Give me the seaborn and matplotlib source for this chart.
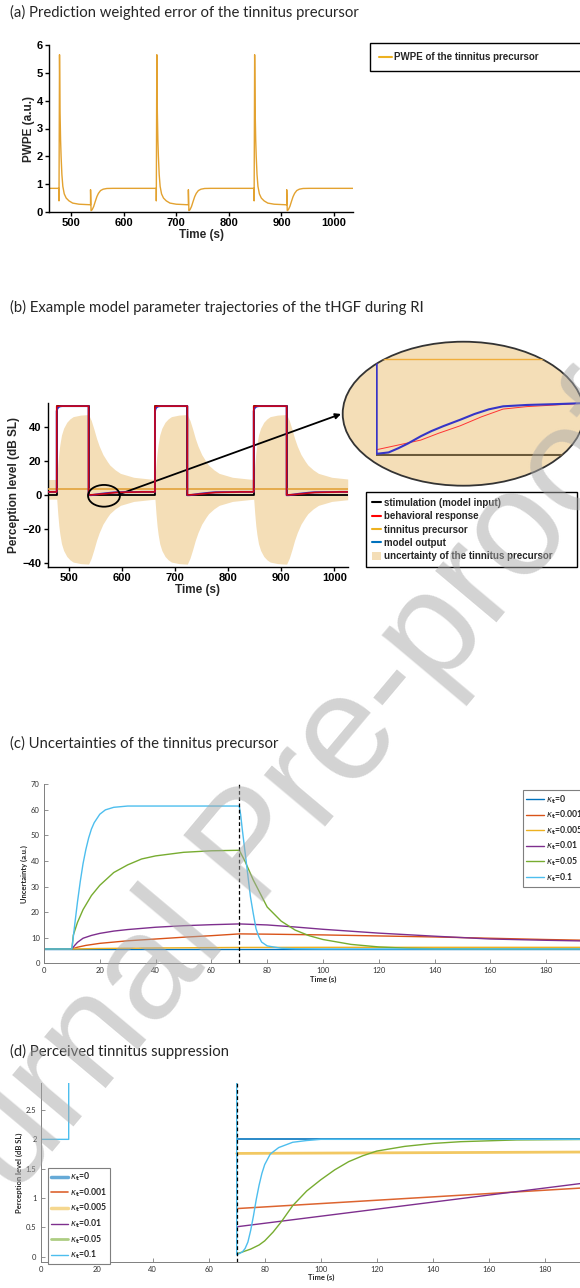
import matplotlib
matplotlib.use("Agg")
import matplotlib.pyplot as plt
import seaborn as sns
import numpy as np
import pandas as pd
from matplotlib.patches import Ellipse, Patch
from matplotlib.lines import Line2D

# ------------------------------------------------------------------ data
# stimulation events (s) for panels (a) and (b)
stim_on = [477, 662, 848]
stim_off = [537, 723, 910]
stim_level = 52.5

# (a) PWPE: shape after onset and after offset (relative s, value)
pwpe_base = 0.85
pwpe_on_t = [0, 0, 1, 2, 3, 4, 5.5, 7.3, 10, 13.7, 19, 26, 38, 60]
pwpe_on_v = [0.85, 0.40, 5.65, 3.6, 2.6, 2.0, 1.35, 0.92, 0.65, 0.50, 0.40, 0.32, 0.28, 0.26]
pwpe_off_t = [0, 0, 1, 3, 6, 9, 12, 15, 19, 24, 31, 43]
pwpe_off_v = [0.26, 0.80, 0.05, 0.08, 0.20, 0.38, 0.55, 0.67, 0.77, 0.82, 0.845, 0.85]

# (b) behavioural response (red) and model output (blue)
resp_base = 2.0
resp_on_t = [0, 0]
resp_on_v = [2.0, 52.5]
resp_off_t = [0, 0, 8, 18.5, 26, 35, 44, 53, 63, 75, 88, 100]
resp_off_v = [52.5, 0.2, 0.35, 0.55, 0.8, 1.07, 1.4, 1.68, 1.77, 1.83, 1.9, 2.0]
model_on_t = [0, 0, 1, 3, 6, 10]
model_on_v = [2.0, 49.5, 50.8, 51.8, 52.3, 52.5]
model_off_t = [0, 0, 5, 9, 13, 18.5, 23, 28, 35, 41, 47, 53, 63, 75, 88, 100]
model_off_v = [52.5, 0.05, 0.1, 0.25, 0.42, 0.69, 0.88, 1.06, 1.29, 1.5, 1.67, 1.78, 1.83, 1.86, 1.9, 2.0]
precursor_level = 3.5
# uncertainty half width around the precursor
unc_base = 5.8
unc_on_t = [0, 2, 4, 6, 9, 13, 19, 25, 31, 45, 60]
unc_on_v = [5.8, 14.5, 21.5, 26.5, 32, 36, 39.5, 41.5, 42.8, 43.7, 44]
unc_off_t = [0, 5, 10, 15, 20, 27, 35, 40, 50, 60, 85, 115]
unc_off_v = [44, 40.5, 35.5, 30, 25.5, 20.5, 16.5, 14.3, 11.5, 9.4, 7.1, 6.1]

# (c) uncertainties of the tinnitus precursor
kappa_labels = ['0', '0.001', '0.005', '0.01', '0.05', '0.1']
kappa_colors = ['#0072BD', '#D95319', '#EDB120', '#7E2F8E', '#77AC30', '#4DBEEE']
unc_time_0 = [0, 200]
unc_val_0 = [5.6, 5.6]
unc_time_001 = [0, 10, 12, 15, 20, 30, 40, 50, 60, 70, 80, 100, 120, 140, 160, 180, 200]
unc_val_001 = [5.6, 5.6, 6.3, 7.0, 7.8, 8.8, 9.5, 10.2, 10.8, 11.5, 11.4, 11.1, 10.7, 10.3, 9.8, 9.3, 8.9]
unc_time_005 = [0, 10, 20, 40, 70, 100, 200]
unc_val_005 = [5.6, 5.6, 5.8, 6.0, 6.2, 6.25, 6.25]
unc_time_01 = [0, 10, 11, 12, 14, 17, 20, 25, 30, 40, 50, 60, 70, 80, 90, 100, 120, 140, 160, 180, 200]
unc_val_01 = [5.6, 5.6, 7.0, 8.2, 9.8, 10.9, 11.7, 12.6, 13.2, 14.1, 14.7, 15.1, 15.4, 15.0, 14.2, 13.3, 11.8, 10.6, 9.5, 9.0, 8.6]
unc_time_05 = [0, 10, 10.5, 12, 14, 17, 20, 25, 30, 35, 40, 50, 60, 70, 72, 75, 80, 85, 90, 95, 100, 110, 120, 130, 140, 160, 200]
unc_val_05 = [5.6, 5.6, 11, 16, 21, 26.5, 30.5, 35.5, 38.5, 40.8, 42.0, 43.4, 44.0, 44.2, 40, 32.6, 22, 16.5, 13, 10.8, 9.3, 7.4, 6.4, 5.9, 5.7, 5.6, 5.6]
unc_time_1 = [0, 10, 11, 12, 13, 14, 15, 16, 17, 18, 20, 22, 25, 30, 70, 70.5, 71, 72, 73, 74, 75, 76, 77, 78, 80, 85, 90, 100, 200]
unc_val_1 = [5.6, 5.6, 15, 24, 32, 39, 44.5, 49, 52.5, 55, 58.3, 60, 61.0, 61.5, 61.5, 58, 53, 44, 35, 26, 19.5, 13.5, 10.4, 8.3, 6.8, 5.9, 5.7, 5.6, 5.6]

# (d) perceived tinnitus suppression (3.4 = above the shown range)
perc_time_0 = [70, 200]
perc_val_0 = [2.0, 2.0]
perc_time_001 = [70, 200]
perc_val_001 = [0.82, 1.19]
perc_time_005 = [70, 200]
perc_val_005 = [1.76, 1.785]
perc_time_01 = [70, 200]
perc_val_01 = [0.51, 1.29]
perc_time_05 = [70, 72, 75, 78, 80, 83, 86, 90, 95, 100, 105, 110, 115, 120, 130, 140, 150, 170, 200]
perc_val_05 = [0.05, 0.08, 0.13, 0.2, 0.27, 0.42, 0.6, 0.87, 1.12, 1.31, 1.48, 1.62, 1.72, 1.8, 1.88, 1.93, 1.96, 1.99, 2.0]
perc_time_1 = [0, 10, 10, 70, 70, 72, 73, 74, 75, 76, 77, 78, 79, 80, 82, 85, 90, 95, 100, 200]
perc_val_1 = [2.0, 2.0, 3.4, 3.4, 0.03, 0.08, 0.14, 0.25, 0.45, 0.7, 0.98, 1.22, 1.42, 1.57, 1.75, 1.86, 1.95, 1.98, 2.0, 2.0]

# ------------------------------------------------------------------ helpers
def build(on_t, on_v, off_t, off_v, t0, t1, base):
    t, v = [t0], [base]
    for on, off in zip(stim_on, stim_off):
        t += [on + x for x in on_t]
        v += list(on_v)
        t += [off + x for x in off_t]
        v += list(off_v)
    t.append(t1)
    v.append(base)
    return np.array(t, float), np.array(v, float)

sns.set_theme(style="ticks")
plt.rcParams['font.family'] = ['Liberation Sans', 'DejaVu Sans']
plt.rcParams['mathtext.fontset'] = 'dejavusans'
plt.rcParams['axes.facecolor'] = 'white'

W, H = 580, 1288
fig = plt.figure(figsize=(W / 100, H / 100), dpi=100)
fig.patch.set_facecolor('white')

def fb(l, t, r, b):
    return [l / W, 1 - b / H, (r - l) / W, (b - t) / H]

def line(ax, x, y, **kw):
    sns.lineplot(x=list(x), y=list(y), ax=ax, estimator=None, sort=False, **kw)

TITLE = dict(family=['Lato', 'DejaVu Sans'], fontsize=10.7, va='center', ha='left')
fig.text(10 / W, 1 - 12 / H, '(a) Prediction weighted error of the tinnitus precursor', **TITLE)
fig.text(10 / W, 1 - 307 / H, '(b) Example model parameter trajectories of the tHGF during RI', **TITLE)
fig.text(10 / W, 1 - 743 / H, '(c) Uncertainties of the tinnitus precursor', **TITLE)
fig.text(10 / W, 1 - 1051 / H, '(d) Perceived tinnitus suppression', **TITLE)

def style_ab(ax):
    sns.despine(ax=ax)
    for s in ['left', 'bottom']:
        ax.spines[s].set_linewidth(1.0)
        ax.spines[s].set_color('black')
    ax.tick_params(direction='out', length=3, width=1, labelsize=8, pad=1.5, colors='black')
    for lab in ax.get_xticklabels() + ax.get_yticklabels():
        lab.set_fontweight('bold')
    ax.set_xlabel('Time (s)', fontsize=8.5, fontweight='bold', labelpad=0.5)

LEG_AB = dict(loc='upper left', bbox_transform=fig.transFigure, mode='expand', borderaxespad=0,
              fancybox=False, edgecolor='black', framealpha=1,
              prop={'family': 'Liberation Sans', 'weight': 'bold', 'size': 7})

# ------------------------------------------------------------------ (a)
ax_a = fig.add_axes(fb(49, 45, 353, 212))
ta, va = build(pwpe_on_t, pwpe_on_v, pwpe_off_t, pwpe_off_v, 458, 1036, pwpe_base)
line(ax_a, ta, va, color='#E3A230', lw=1.0)
ax_a.set_xlim(458, 1036)
ax_a.set_ylim(0, 6)
ax_a.set_xticks([500, 600, 700, 800, 900, 1000])
ax_a.set_yticks(range(0, 7))
ax_a.set_ylabel('PWPE (a.u.)', fontsize=8.5, fontweight='bold', labelpad=1)
style_ab(ax_a)
leg_a = ax_a.legend([Line2D([], [], color='#EDB120', lw=1.5)], ['PWPE of the tinnitus precursor'],
                    bbox_to_anchor=fb(370, 43.3, 610, 71.7), handlelength=1.3,
                    handletextpad=0.2, borderpad=0.92, **LEG_AB)
leg_a.get_frame().set_linewidth(1.0)

# ------------------------------------------------------------------ (b)
ax_b = fig.add_axes(fb(47.7, 402.7, 347.7, 567))
tb_u, hw = build(unc_on_t, unc_on_v, unc_off_t, unc_off_v, 460, 1025, unc_base)
ax_b.fill_between(tb_u, precursor_level - hw, precursor_level + hw, color='#F4DEB7', lw=0, zorder=1)
ts, vs = build([0, 0], [0, stim_level], [0, 0], [stim_level, 0], 460, 1025, 0.0)
line(ax_b, ts, vs, color='black', lw=1.3, zorder=2)
line(ax_b, [460, 1025], [precursor_level, precursor_level], color='#E3A23B', lw=1.2, zorder=3)
tm, vm = build(model_on_t, model_on_v, model_off_t, model_off_v, 460, 1025, resp_base)
line(ax_b, tm, vm, color='#2F2FD0', lw=1.4, zorder=4)
tr, vr = build(resp_on_t, resp_on_v, resp_off_t, resp_off_v, 460, 1025, resp_base)
line(ax_b, tr, vr, color='#E00000', lw=1.2, zorder=5, alpha=0.9)
ax_b.set_xlim(460, 1025)
ax_b.set_ylim(-42.2, 54.5)
ax_b.set_xticks([500, 600, 700, 800, 900, 1000])
ax_b.set_yticks([-40, -20, 0, 20, 40])
ax_b.set_ylabel('Perception level (dB SL)', fontsize=8.5, fontweight='bold', labelpad=2)
style_ab(ax_b)
ax_b.add_patch(Ellipse((566, -0.3), 60, 12.8, fill=False, ec='black', lw=1.3, zorder=6))
ax_b.annotate('', xy=(341 / W, 1 - 414 / H), xycoords='figure fraction',
              xytext=(118.5 / W, 1 - 494.5 / H), textcoords='figure fraction',
              arrowprops=dict(arrowstyle='-|>', color='black', lw=1.3,
                              mutation_scale=8, shrinkA=0, shrinkB=0),
              annotation_clip=False)
hb = [Line2D([], [], color='black', lw=1.5), Line2D([], [], color='#FF0000', lw=1.5),
      Line2D([], [], color='#EDB120', lw=1.5), Line2D([], [], color='#0072BD', lw=1.5),
      Patch(facecolor='#F4DEB7', edgecolor='none')]
lb = ['stimulation (model input)', 'behavioral response', 'tinnitus precursor',
      'model output', 'uncertainty of the tinnitus precursor']
leg_b = ax_b.legend(hb, lb, bbox_to_anchor=fb(365.7, 492.3, 577.3, 569),
                    handlelength=0.95, handleheight=0.9, handletextpad=0.3, borderpad=0.6,
                    labelspacing=0.34, **LEG_AB)
leg_b.get_frame().set_linewidth(1.0)

# zoom ellipse
ax_el = fig.add_axes(fb(342.7, 341.7, 584, 485.7))
ax_el.set_axis_off()
ell = Ellipse((0.5, 0.5), 1, 1, transform=ax_el.transAxes, fc='#F4DEB7', ec='#333333',
              lw=1.3, clip_on=False)
ax_el.add_patch(ell)
ax_in = fig.add_axes(fb(375.7, 358.3, 620, 456))
ax_in.set_axis_off()
ax_in.patch.set_alpha(0)
line(ax_in, [536.6, 700], [precursor_level, precursor_level], color='#F0AE3C', lw=1.0)
line(ax_in, [536.6, 700], [0, 0], color='#6B5A3A', lw=1.5)
line(ax_in, tr, vr, color='#FF3333', lw=0.7)
line(ax_in, tm, vm, color='#3535C8', lw=1.5)
ax_in.set_xlim(536.6, 639)
ax_in.set_ylim(-0.03, 3.53)
for ln in ax_in.lines:
    ln.set_clip_path(ell)

# ------------------------------------------------------------------ (c), (d) style
CD_FONT = ['Lato', 'DejaVu Sans']

def style_cd(ax):
    sns.despine(ax=ax)
    for s in ['left', 'bottom']:
        ax.spines[s].set_linewidth(0.7)
        ax.spines[s].set_color('#7F7F7F')
    ax.tick_params(direction='in', length=3, width=0.6, colors='#7F7F7F',
                   labelcolor='#333333', labelsize=5.5, pad=3)
    for lab in ax.get_xticklabels() + ax.get_yticklabels():
        lab.set_family(CD_FONT)
    ax.set_xlabel('Time (s)', fontsize=5.5, fontweight='bold', family=CD_FONT, labelpad=1)

kap_lab = [r'$\kappa_{\mathbf{t}}$=' + k for k in kappa_labels]
LEG_CD = dict(loc='upper left', bbox_transform=fig.transFigure, borderaxespad=0,
              handlelength=2.0, handletextpad=0.25, borderpad=0.35, labelspacing=0.36,
              fancybox=False, edgecolor='#7F7F7F', framealpha=1,
              prop={'family': CD_FONT, 'weight': 'bold', 'size': 6.2})

# ------------------------------------------------------------------ (c)
ax_c = fig.add_axes(fb(44, 784.3, 44 + 2.79 * 200, 963.3))
c_series = [(unc_time_0, unc_val_0), (unc_time_001, unc_val_001), (unc_time_005, unc_val_005),
            (unc_time_01, unc_val_01), (unc_time_05, unc_val_05), (unc_time_1, unc_val_1)]
for (x, y), col in zip(c_series, kappa_colors):
    line(ax_c, x, y, color=col, lw=1.0)
ax_c.axvline(70, color='black', ls='--', lw=0.9, dashes=(3, 2))
ax_c.set_xlim(0, 200)
ax_c.set_ylim(0, 70)
ax_c.set_xticks(range(0, 201, 20))
ax_c.set_yticks(range(0, 71, 10))
ax_c.set_ylabel('Uncertainty (a.u.)', fontsize=5.5, fontweight='bold', family=CD_FONT, labelpad=2)
style_cd(ax_c)
hc = [Line2D([], [], color=c, lw=1.0) for c in kappa_colors]
leg_c = ax_c.legend(hc, kap_lab, bbox_to_anchor=(523.3 / W, 1 - 790 / H), **LEG_CD)
leg_c.get_frame().set_linewidth(0.8)

# ------------------------------------------------------------------ (d)
ax_d = fig.add_axes(fb(40.7, 1083.3, 40.7 + 2.8 * 200, 1261.7))
d_series = [(perc_time_0, perc_val_0), (perc_time_001, perc_val_001), (perc_time_005, perc_val_005),
            (perc_time_01, perc_val_01), (perc_time_05, perc_val_05), (perc_time_1, perc_val_1)]
d_lw = [1.3, 1.1, 2.0, 1.0, 1.0, 1.0]
d_alpha = [0.9, 0.9, 0.7, 1.0, 1.0, 1.0]
for (x, y), col, w, a in zip(d_series, kappa_colors, d_lw, d_alpha):
    line(ax_d, x, y, color=col, lw=w, alpha=a)
ax_d.axvline(70, color='black', ls='--', lw=0.9, dashes=(3, 2))
ax_d.set_xlim(0, 200)
ax_d.set_ylim(-0.085, 2.955)
ax_d.set_xticks(range(0, 201, 20))
ax_d.set_yticks([0, 0.5, 1, 1.5, 2, 2.5])
ax_d.set_yticklabels(['0', '0.5', '1', '1.5', '2', '2.5'])
ax_d.set_ylabel('Perception level (dB SL)', fontsize=5.5, fontweight='bold', family=CD_FONT, labelpad=2)
style_cd(ax_d)
hd = [Line2D([], [], color=c, lw=w, alpha=a) for c, w, a in
      zip(kappa_colors, [2.5, 1.2, 2.5, 1.0, 2.0, 1.0], [0.6, 0.9, 0.5, 1.0, 0.6, 1.0])]
leg_d = ax_d.legend(hd, kap_lab, bbox_to_anchor=(47.7 / W, 1 - 1167.7 / H), **LEG_CD)
leg_d.get_frame().set_linewidth(0.8)

# ------------------------------------------------------------------ watermark
fig.text(255 / W, 1 - 850 / H, 'Journal Pre-proof', rotation=50, rotation_mode='anchor',
         ha='center', va='center', fontsize=108, color='#A8A8A8', alpha=0.5,
         family=['Liberation Sans'], zorder=10)

fig.savefig('out.png', dpi=100)
